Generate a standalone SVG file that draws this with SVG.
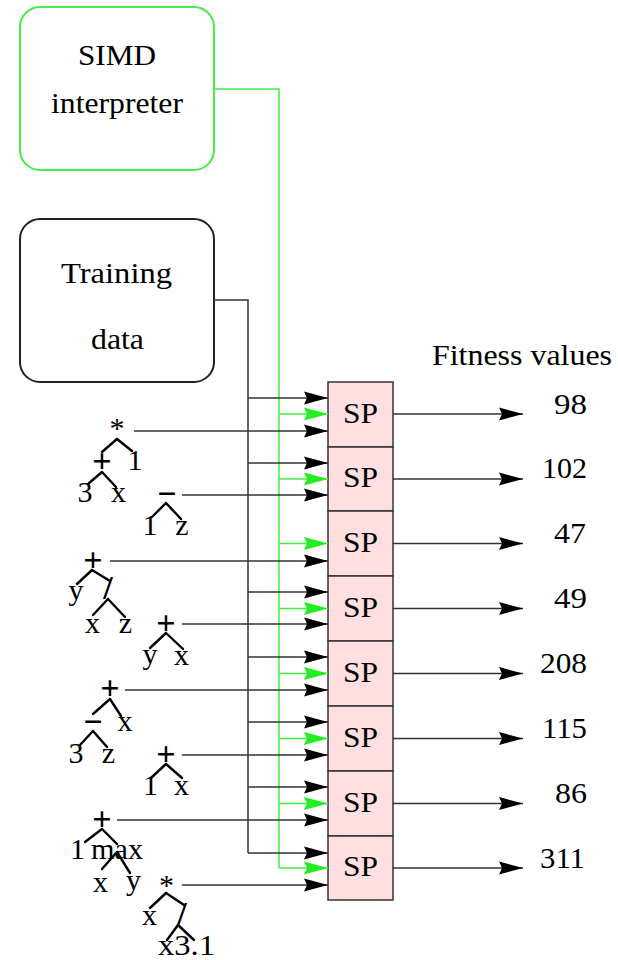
<svg xmlns="http://www.w3.org/2000/svg" width="618" height="960" viewBox="0 0 618 960">
<style>
.t{font-family:"Liberation Serif","Times New Roman",serif;font-size:30px;fill:#000}
.m{text-anchor:middle}
.op{font-weight:bold;font-size:34px}
.box{fill:#fff;stroke-width:2}
.sp{fill:#ffdfdf;stroke:#333;stroke-width:1.5}
.k{stroke:#333;stroke-width:1.5;fill:none}
.g{stroke:#44ee44;stroke-width:1.5;fill:none}
.e{stroke:#000;stroke-width:2.4;fill:none;stroke-linecap:round}
</style>
<defs>
<marker id="ak" markerUnits="userSpaceOnUse" markerWidth="26" markerHeight="14" viewBox="-25 -7 26 14" refX="0" refY="0" orient="auto" overflow="visible">
<path d="M0,0 L-24,-6.5 L-21,0 L-24,6.5 Z" fill="#000"/>
</marker>
<marker id="ag" markerUnits="userSpaceOnUse" markerWidth="26" markerHeight="14" viewBox="-25 -7 26 14" refX="0" refY="0" orient="auto" overflow="visible">
<path d="M0,0 L-24,-6.5 L-21,0 L-24,6.5 Z" fill="#22ee22"/>
</marker>
</defs>
<rect width="618" height="960" fill="#fff"/>

<g id="simd">
<rect class="box" x="20" y="7" width="194" height="163" rx="20" stroke="#44ee44"/>
<text class="t m" x="117" y="65" textLength="78" lengthAdjust="spacingAndGlyphs">SIMD</text>
<text class="t m" x="117" y="113" textLength="132" lengthAdjust="spacingAndGlyphs">interpreter</text>
</g>

<g id="training">
<rect class="box" x="20" y="219" width="194" height="163" rx="20" stroke="#222"/>
<text class="t m" x="116.5" y="283" textLength="111" lengthAdjust="spacingAndGlyphs">Training</text>
<text class="t m" x="117.5" y="349" textLength="53" lengthAdjust="spacingAndGlyphs">data</text>
</g>

<g id="sp-column">
<rect class="sp" x="328" y="382" width="65" height="65"/>
<rect class="sp" x="328" y="447" width="65" height="64"/>
<rect class="sp" x="328" y="511" width="65" height="65"/>
<rect class="sp" x="328" y="576" width="65" height="65"/>
<rect class="sp" x="328" y="641" width="65" height="65"/>
<rect class="sp" x="328" y="706" width="65" height="65"/>
<rect class="sp" x="328" y="771" width="65" height="65"/>
<rect class="sp" x="328" y="836" width="65" height="64"/>
<text class="t m" x="360.5" y="422.5" textLength="35" lengthAdjust="spacingAndGlyphs">SP</text>
<text class="t m" x="360.5" y="487" textLength="35" lengthAdjust="spacingAndGlyphs">SP</text>
<text class="t m" x="360.5" y="551.5" textLength="35" lengthAdjust="spacingAndGlyphs">SP</text>
<text class="t m" x="360.5" y="616.5" textLength="35" lengthAdjust="spacingAndGlyphs">SP</text>
<text class="t m" x="360.5" y="681.5" textLength="35" lengthAdjust="spacingAndGlyphs">SP</text>
<text class="t m" x="360.5" y="746.5" textLength="35" lengthAdjust="spacingAndGlyphs">SP</text>
<text class="t m" x="360.5" y="811.5" textLength="35" lengthAdjust="spacingAndGlyphs">SP</text>
<text class="t m" x="360.5" y="876" textLength="35" lengthAdjust="spacingAndGlyphs">SP</text>
</g>

<g id="fitness">
<text class="t" x="432" y="365" textLength="180" lengthAdjust="spacingAndGlyphs">Fitness values</text>
<text class="t" x="554" y="414" textLength="33" lengthAdjust="spacingAndGlyphs">98</text>
<text class="t" x="542" y="478" textLength="45" lengthAdjust="spacingAndGlyphs">102</text>
<text class="t" x="554" y="543" textLength="32" lengthAdjust="spacingAndGlyphs">47</text>
<text class="t" x="554" y="608" textLength="33" lengthAdjust="spacingAndGlyphs">49</text>
<text class="t" x="540" y="673" textLength="47" lengthAdjust="spacingAndGlyphs">208</text>
<text class="t" x="542" y="738" textLength="45" lengthAdjust="spacingAndGlyphs">115</text>
<text class="t" x="555" y="803" textLength="32" lengthAdjust="spacingAndGlyphs">86</text>
<text class="t" x="540" y="868" textLength="45" lengthAdjust="spacingAndGlyphs">311</text>
</g>

<g id="tree1">
<text class="t m" x="117" y="438">*</text>
<path class="e" d="M117,439 L102,452 M117,439 L132,451"/>
<text class="t m op" x="102" y="472">+</text>
<text class="t m" x="135" y="470">1</text>
<path class="e" d="M102,472 L88,484 M102,472 L116,487"/>
<text class="t m" x="85" y="502">3</text>
<text class="t m" x="118.5" y="502">x</text>
</g>
<g id="tree2">
<text class="t m op" x="167" y="505">−</text>
<path class="e" d="M166,503 L152,517 M166,503 L181,519"/>
<text class="t m" x="150" y="535">1</text>
<text class="t m" x="182" y="535">z</text>
</g>
<g id="tree3">
<text class="t m op" x="93" y="571">+</text>
<path class="e" d="M92,570 L77,584 M92,570 L110,581"/>
<text class="t m" x="76" y="600">y</text>
<text class="t m op" x="108" y="599">/</text>
<path class="e" d="M108,599 L93,615 M108,599 L125,617"/>
<text class="t m" x="92.5" y="633">x</text>
<text class="t m" x="125.5" y="633">z</text>
</g>
<g id="tree4">
<text class="t m op" x="166" y="633.5">+</text>
<path class="e" d="M166,633 L150,648 M166,633 L183,649"/>
<text class="t m" x="150" y="664">y</text>
<text class="t m" x="181.5" y="665">x</text>
</g>
<g id="tree5">
<text class="t m op" x="110" y="699">+</text>
<path class="e" d="M110,699 L93,714 M110,699 L121,716"/>
<text class="t m op" x="93" y="733">−</text>
<text class="t m" x="125" y="731">x</text>
<path class="e" d="M93,731 L80,745 M93,731 L107,747"/>
<text class="t m" x="76" y="763">3</text>
<text class="t m" x="108.5" y="763">z</text>
</g>
<g id="tree6">
<text class="t m op" x="166" y="764.5">+</text>
<path class="e" d="M166,764 L152,777 M166,764 L182,778"/>
<text class="t m" x="150.5" y="795">1</text>
<text class="t m" x="181.5" y="795">x</text>
</g>
<g id="tree7">
<text class="t m op" x="102" y="829.5">+</text>
<path class="e" d="M102,829 L85,842 M102,829 L117,844"/>
<text class="t m" x="77.5" y="859">1</text>
<text class="t m" x="117" y="859" textLength="52" lengthAdjust="spacingAndGlyphs">max</text>
<path class="e" d="M117,852 L102,869 M117,852 L130,873"/>
<text class="t m" x="100.5" y="892">x</text>
<text class="t m" x="133.5" y="890">y</text>
</g>
<g id="tree8">
<text class="t m" x="166.5" y="895">*</text>
<path class="e" d="M166,893 L150,908 M166,893 L184,905"/>
<text class="t m" x="149.5" y="925">x</text>
<text class="t m op" x="182" y="925">/</text>
<path class="e" d="M178,925 L167,940 M178,925 L194,940"/>
<text class="t m" x="186.5" y="955" textLength="57" lengthAdjust="spacingAndGlyphs">x3.1</text>
</g>

<g id="connectors">
<path class="g" d="M214,89 H279 V868"/>
<path class="k" d="M214,300 H248 V853"/>
<g class="k" marker-end="url(#ak)">
<path d="M248,398 H328"/>
<path d="M248,463 H328"/>
<path d="M248,592 H328"/>
<path d="M248,657 H328"/>
<path d="M248,722 H328"/>
<path d="M248,787 H328"/>
<path d="M248,853 H328"/>
</g>
<g class="g" marker-end="url(#ag)">
<path d="M279,414 H328"/>
<path d="M279,479 H328"/>
<path d="M279,543.5 H328"/>
<path d="M279,608.5 H328"/>
<path d="M279,673.5 H328"/>
<path d="M279,738.5 H328"/>
<path d="M279,803.5 H328"/>
<path d="M279,868 H328"/>
</g>
<g class="k" marker-end="url(#ak)">
<path d="M134,431 H328"/>
<path d="M182,495 H328"/>
<path d="M110,561 H328"/>
<path d="M182,624 H328"/>
<path d="M125,690 H328"/>
<path d="M182,755 H328"/>
<path d="M117,820 H328"/>
<path d="M182,885 H328"/>
</g>
<g class="k" marker-end="url(#ak)">
<path d="M393,414 H523"/>
<path d="M393,479 H523"/>
<path d="M393,543.5 H523"/>
<path d="M393,608.5 H523"/>
<path d="M393,673.5 H523"/>
<path d="M393,738.5 H523"/>
<path d="M393,803.5 H523"/>
<path d="M393,868 H523"/>
</g>
</g>
</svg>
